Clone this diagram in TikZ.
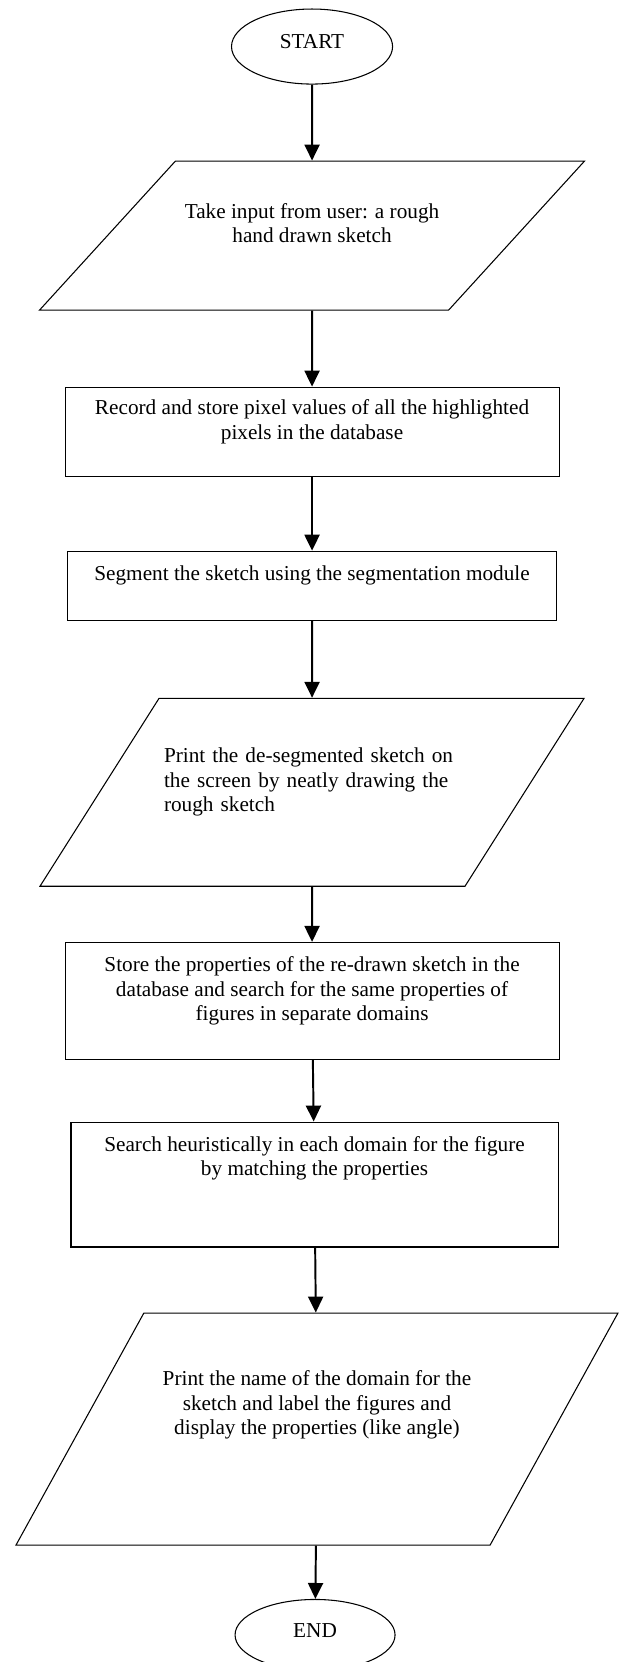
\documentclass[tikz,border=0pt]{standalone}
\usepackage{fontspec}
\setmainfont{Liberation Serif}
\usetikzlibrary{positioning, arrows.meta, shapes.geometric}

\begin{document}
\begin{tikzpicture}[
    font=\fontsize{12}{13.8}\selectfont,
    term/.style={ellipse, draw=black, line width=0.6pt, inner sep=0pt,
                 minimum width=91pt, text depth=5.5pt},
    io/.style={trapezium, trapezium stretches body, draw=black, line width=0.6pt,
               inner sep=0pt, align=center, text depth=13.8pt},
    proc/.style={rectangle, draw=black, line width=0.6pt, inner sep=0pt,
                 align=center, text depth=13.8pt},
    flow/.style={-{Triangle[length=9pt, width=8.5pt]}, line width=1.1pt, draw=black}
]
\useasboundingbox (0,0) rectangle (349.7pt,-939pt);
\node[term, minimum height=42.4pt] (start) at (176.3pt,-26.3pt) {START};
\node[io, below=42.9pt of start, trapezium left angle=25.0, trapezium right angle=155.0,
      minimum width=307.9pt, minimum height=84.2pt, text height=22pt] (input)
      {Take input from user: a rough\\hand drawn sketch};
\node[proc, below=42.9pt of input, minimum width=279.1pt, minimum height=50.3pt] (record)
      {Record and store pixel values of all the highlighted\\pixels in the database};
\node[proc, below=41.8pt of record, minimum width=276.3pt, minimum height=39pt] (segment)
      {Segment the sketch using the segmentation module};
\node[io, below=43.5pt of segment, trapezium left angle=36.4, trapezium right angle=143.6,
      minimum width=307.4pt, minimum height=106.2pt, align=left, text width=167.2pt,
      text height=8.2pt, text depth=41.4pt] (redraw)
      {Print the de-segmented sketch on\\the screen by neatly drawing the\\rough sketch};
\node[proc, below=31.1pt of redraw, minimum width=279.1pt, minimum height=66.1pt] (store)
      {Store the properties of the re-drawn sketch in the\\database and search for the same properties of\\figures in separate domains};
\node[proc, below=34.8pt of store, xshift=1.4pt, minimum width=275.2pt, minimum height=70.6pt,
      text depth=32.1pt] (search)
      {Search heuristically in each domain for the figure\\by matching the properties};
\node[io, below=36.7pt of search, xshift=1.4pt, trapezium left angle=42.2, trapezium right angle=137.8,
      minimum width=340.1pt, minimum height=131.1pt, text height=35.8pt, text depth=29.7pt] (output)
      {Print the name of the domain for the\\sketch and label the figures and\\display the properties (like angle)};
\node[term, below=30.1pt of output, xshift=-1.1pt, minimum width=90.4pt, minimum height=40.1pt] (stop) {END};
\foreach \a/\b in {start/input, input/record, record/segment, segment/redraw,
                   redraw/store, store/search, search/output, output/stop}{\draw[flow] (\a)--(\b);}
\end{tikzpicture}
\end{document}
